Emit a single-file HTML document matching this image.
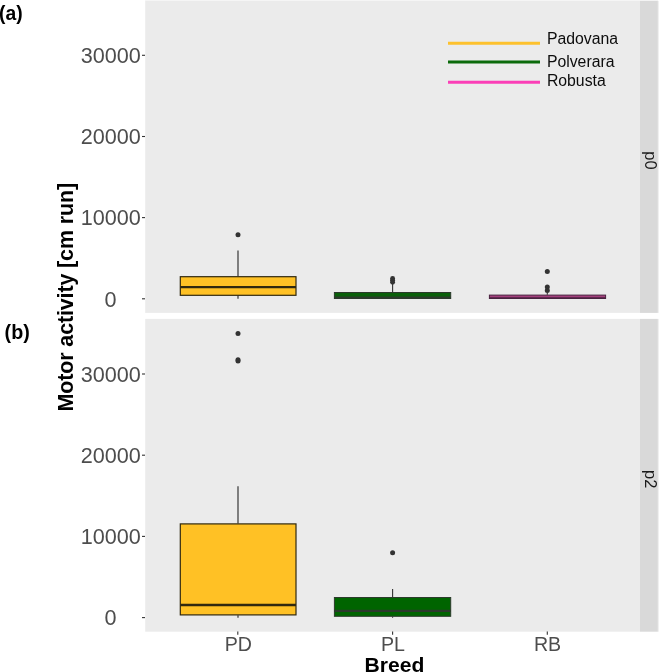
<!DOCTYPE html>
<html>
<head>
<meta charset="utf-8">
<title>Motor activity by breed</title>
<style>
html,body{margin:0;padding:0;background:#fff;}
body{width:659px;height:672px;overflow:hidden;}
svg{display:block;}
text{font-family:"Liberation Sans",sans-serif;}
.tick{fill:#4d4d4d;font-size:21.6px;}
.xt{fill:#4d4d4d;font-size:19.6px;}
.leg{fill:#0d0d0d;font-size:15.8px;}
.strip{fill:#1a1a1a;font-size:16.5px;}
.bold{font-weight:bold;fill:#000;}
</style>
</head>
<body>
<svg width="659" height="672" viewBox="0 0 659 672">
<rect x="0" y="0" width="659" height="672" fill="#ffffff"/>
<!-- panels -->
<rect x="145.2" y="0" width="513" height="1" fill="#f6f6f6"/>
<rect x="145.2" y="0.9" width="494.8" height="312" fill="#ebebeb"/>
<rect x="145.2" y="318.9" width="494.8" height="312.8" fill="#ebebeb"/>
<rect x="640" y="0.9" width="17.9" height="312" fill="#d9d9d9"/>
<rect x="657.9" y="0.9" width="1.1" height="312" fill="#f0f0f0"/>
<rect x="640" y="318.9" width="17.9" height="312.8" fill="#d9d9d9"/>
<rect x="657.9" y="318.9" width="1.1" height="312.8" fill="#f0f0f0"/>

<!-- y ticks -->
<g stroke="#333333" stroke-width="1.1">
<line x1="142" x2="145" y1="55.3" y2="55.3"/>
<line x1="142" x2="145" y1="136.5" y2="136.5"/>
<line x1="142" x2="145" y1="217.6" y2="217.6"/>
<line x1="142" x2="145" y1="298.8" y2="298.8"/>
<line x1="142" x2="145" y1="374" y2="374"/>
<line x1="142" x2="145" y1="455.2" y2="455.2"/>
<line x1="142" x2="145" y1="536.4" y2="536.4"/>
<line x1="142" x2="145" y1="617.6" y2="617.6"/>
<line x1="237.8" x2="237.8" y1="631.6" y2="634.8"/>
<line x1="392.6" x2="392.6" y1="631.6" y2="634.8"/>
<line x1="547.3" x2="547.3" y1="631.6" y2="634.8"/>
</g>
<g class="tick" text-anchor="end">
<text x="140.9" y="63.0">30000</text>
<text x="140.9" y="144.2">20000</text>
<text x="140.9" y="225.3">10000</text>
<text x="116.5" y="306.5">0</text>
<text x="140.9" y="381.7">30000</text>
<text x="140.9" y="462.9">20000</text>
<text x="140.9" y="544.1">10000</text>
<text x="116.5" y="625.3">0</text>
</g>
<g class="xt" text-anchor="middle">
<text x="238.3" y="651">PD</text>
<text x="393" y="651">PL</text>
<text x="547.5" y="651">RB</text>
</g>
<text class="bold" x="394.5" y="672" font-size="21.1" text-anchor="middle">Breed</text>
<text class="bold" font-size="21.5" text-anchor="middle" textLength="228.6" lengthAdjust="spacing" transform="translate(73 297.2) rotate(-90)">Motor activity [cm run]</text>
<text class="bold" x="-1" y="19.5" font-size="19.5" textLength="23.6" lengthAdjust="spacingAndGlyphs">(a)</text>
<text class="bold" x="4.6" y="338.9" font-size="19.5" textLength="25.2" lengthAdjust="spacingAndGlyphs">(b)</text>
<text class="strip" text-anchor="middle" transform="translate(645.3 160.5) rotate(90)">p0</text>
<text class="strip" text-anchor="middle" transform="translate(645.3 479.2) rotate(90)">p2</text>

<!-- legend -->
<g stroke-width="3" fill="none">
<line x1="448" x2="540" y1="43.3" y2="43.3" stroke="#fdc12d"/>
<line x1="448" x2="540" y1="62" y2="62" stroke="#0a6a0a"/>
<line x1="448" x2="540" y1="82.2" y2="82.2" stroke="#fb3fb7"/>
</g>
<g class="leg">
<text x="546.9" y="43.7">Padovana</text>
<text x="546.9" y="66.5">Polverara</text>
<text x="546.9" y="85.9">Robusta</text>
</g>

<!-- panel a -->
<g stroke="#30280f" stroke-width="1.2">
<line x1="238" x2="238" y1="250.4" y2="276.3" stroke="#363636"/>
<line x1="238" x2="238" y1="295.6" y2="298.8" stroke="#363636"/>
<rect x="180.3" y="276.7" width="115.7" height="18.6" fill="#ffc125"/>
<line x1="180.3" x2="296" y1="287.2" y2="287.2" stroke-width="2.3"/>
</g>
<g stroke="#2c3a2c" stroke-width="1">
<line x1="392.6" x2="392.6" y1="284" y2="292.2" stroke="#333333" stroke-width="1.1"/>
<rect x="334.4" y="292.5" width="116.3" height="6" fill="#0a600a"/>
<line x1="334.4" x2="450.7" y1="297.5" y2="297.5" stroke-width="2.2"/>
</g>
<g stroke="#4a2340" stroke-width="1">
<line x1="547.3" x2="547.3" y1="292.5" y2="294.8" stroke="#333333" stroke-width="1.1"/>
<rect x="489.4" y="295.1" width="116.2" height="3.4" fill="#a5407e"/>
<line x1="489.4" x2="605.6" y1="298" y2="298" stroke-width="1.6"/>
</g>
<g fill="#333333">
<circle cx="238" cy="234.7" r="2.5"/>
<circle cx="392.6" cy="278.4" r="2.45"/>
<circle cx="392.6" cy="280.3" r="2.45"/>
<circle cx="392.6" cy="282.3" r="2.45"/>
<circle cx="547.3" cy="271.4" r="2.5"/>
<circle cx="547.3" cy="287" r="2.5"/>
<circle cx="547.3" cy="290.5" r="2.5"/>
</g>

<!-- panel b -->
<g stroke="#30280f" stroke-width="1.2">
<line x1="238" x2="238" y1="486.2" y2="523.6" stroke="#363636"/>
<line x1="238" x2="238" y1="615.2" y2="617.7" stroke="#363636"/>
<rect x="180.3" y="523.9" width="115.7" height="91" fill="#ffc125"/>
<line x1="180.3" x2="296" y1="605" y2="605" stroke-width="2.3"/>
</g>
<g stroke="#2c3a2c" stroke-width="1">
<line x1="392.6" x2="392.6" y1="589" y2="597.3" stroke="#333333" stroke-width="1.1"/>
<line x1="392.6" x2="392.6" y1="616.5" y2="617.7" stroke="#333333" stroke-width="1.1"/>
<rect x="334.4" y="597.5" width="116.3" height="18.8" fill="#006400"/>
<line x1="334.4" x2="450.7" y1="610.9" y2="610.9" stroke-width="2.2"/>
</g>
<g fill="#333333">
<circle cx="238" cy="333.4" r="2.5"/>
<circle cx="238" cy="359.7" r="2.5"/>
<circle cx="238" cy="361.1" r="2.5"/>
<circle cx="392.6" cy="552.7" r="2.5"/>
</g>
</svg>
</body>
</html>
